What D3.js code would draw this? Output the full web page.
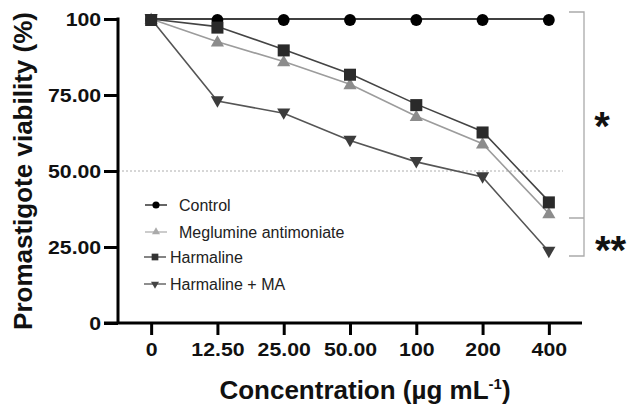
<!DOCTYPE html>
<html>
<head>
<meta charset="utf-8">
<script src="https://cdn.jsdelivr.net/npm/d3@7"></script>
<style>
  body { margin: 0; background: #fff; }
  svg { display: block; font-family: "Liberation Sans", Arial, sans-serif; }
</style>
</head>
<body>
<div id="chart"></div>
<script>
// concentrations (µg/mL) as shown on the axis
const concentrations = ["0", "12.50", "25.00", "50.00", "100", "200", "400"];
const yTicks = [0, 25, 50, 75, 100];
const yTickLabels = ["0", "25.00", "50.00", "75.00", "100"];

// viability values (%)
const control = [100, 100, 100, 100, 100, 100, 100];
const meglumine = [100, 92.5, 86, 78.5, 68, 59, 36];
const harmaline = [100, 97.5, 90, 82, 72, 63, 40];
const harmalineMA = [100, 73, 69, 60, 53, 48, 23.5];

const seriesNames = ["Control", "Meglumine antimoniate", "Harmaline", "Harmaline + MA"];

const width = 629, height = 409;
const svg = d3.select("#chart").append("svg")
    .attr("width", width)
    .attr("height", height);

const x = d3.scalePoint()
    .domain(concentrations)
    .range([118, 582])
    .padding(0.5);

const y = d3.scaleLinear()
    .domain([0, 100])
    .range([323, 19]);

// reference line at 50%
svg.append("line")
    .attr("x1", 118).attr("x2", 563)
    .attr("y1", y(50)).attr("y2", y(50))
    .attr("stroke", "#9a9a9a")
    .attr("stroke-width", 0.8)
    .attr("stroke-dasharray", "2,2");

// series styles (drawn back to front)
const series = [
    { name: seriesNames[1], values: meglumine, line: "#9c9c9c", fill: "#8c8c8c", symbol: d3.symbolTriangle, size: 75, rot: 0 },
    { name: seriesNames[3], values: harmalineMA, line: "#555", fill: "#3c3c3c", symbol: d3.symbolTriangle, size: 75, rot: 180 },
    { name: seriesNames[0], values: control, line: "#000", fill: "#000", symbol: d3.symbolCircle, size: 110, rot: 0 },
    { name: seriesNames[2], values: harmaline, line: "#444", fill: "#2a2a2a", symbol: d3.symbolSquare, size: 145, rot: 0 }
];

const lineGen = d3.line()
    .x((d, i) => x(concentrations[i]))
    .y(d => y(d));

series.forEach(s => {
    svg.append("path")
        .datum(s.values)
        .attr("d", lineGen)
        .attr("fill", "none")
        .attr("stroke", s.line)
        .attr("stroke-width", 1.6);
});

series.forEach(s => {
    svg.append("g").selectAll("path")
        .data(s.values)
        .join("path")
        .attr("d", d3.symbol().type(s.symbol).size(s.size))
        .attr("transform", (d, i) => `translate(${x(concentrations[i])},${y(d) + (s.rot ? -1 : 1)}) rotate(${s.rot})`)
        .attr("fill", s.fill);
});

// axes
const yAxis = svg.append("g")
    .attr("transform", "translate(118,0)")
    .call(d3.axisLeft(y).tickValues(yTicks).tickFormat((d, i) => yTickLabels[i]).tickSize(14).tickPadding(1));

const xAxis = svg.append("g")
    .attr("transform", "translate(0,323)")
    .call(d3.axisBottom(x).tickSize(12).tickPadding(8));

// labels in the picture are a bit wider than Arial, so stretch them sideways
const tickScale = 1.12;
[yAxis, xAxis].forEach(ax => {
    ax.select(".domain").attr("stroke", "#000").attr("stroke-width", 3);
    ax.selectAll(".tick line").attr("stroke", "#000").attr("stroke-width", 3);
    ax.selectAll(".tick text")
        .attr("fill", "#111")
        .attr("transform", `scale(${tickScale},1)`)
        .style("font-size", "19px")
        .style("font-weight", "bold")
        .style("font-family", "'Liberation Sans', Arial, sans-serif");
});
// axis lines without the end caps
yAxis.select(".domain").attr("d", "M0,323V17.5");
xAxis.select(".domain").attr("d", "M104,0H582");

// axis titles
svg.append("text")
    .attr("transform", "translate(32,171) rotate(-90)")
    .attr("text-anchor", "middle")
    .style("font-size", "26px")
    .style("font-weight", "bold")
    .attr("fill", "#111")
    .text("Promastigote viability (%)");

const xTitle = svg.append("text")
    .attr("x", 365).attr("y", 399)
    .attr("text-anchor", "middle")
    .style("font-size", "26px")
    .style("font-weight", "bold")
    .attr("fill", "#111");
xTitle.append("tspan").text("Concentration (µg mL");
xTitle.append("tspan").attr("dy", -10).style("font-size", "15px").text("-1");
xTitle.append("tspan").attr("dy", 10).text(")");

// legend
const legendItems = [
    { name: seriesNames[0], color: "#000", symbol: d3.symbolCircle, size: 40, rot: 0, x1: 145, x2: 167, tx: 179, ty: 205 },
    { name: seriesNames[1], color: "#aaa", symbol: d3.symbolTriangle, size: 28, rot: 0, x1: 145, x2: 167, tx: 179, ty: 232 },
    { name: seriesNames[2], color: "#333", symbol: d3.symbolSquare, size: 45, rot: 0, x1: 144, x2: 166, tx: 170, ty: 257 },
    { name: seriesNames[3], color: "#444", symbol: d3.symbolTriangle, size: 28, rot: 180, x1: 144, x2: 166, tx: 170, ty: 284 }
];

const legend = svg.append("g").classed("legend", true);
legendItems.forEach(item => {
    const cx = (item.x1 + item.x2) / 2;
    legend.append("line")
        .attr("x1", item.x1).attr("x2", item.x2)
        .attr("y1", item.ty).attr("y2", item.ty)
        .attr("stroke", item.color)
        .attr("stroke-width", 1.2);
    legend.append("path")
        .attr("d", d3.symbol().type(item.symbol).size(item.size))
        .attr("transform", `translate(${cx},${item.ty}) rotate(${item.rot})`)
        .attr("fill", item.color);
    legend.append("text")
        .attr("x", item.tx).attr("y", item.ty)
        .attr("dy", "0.35em")
        .style("font-size", "16px")
        .attr("fill", "#222")
        .text(item.name);
});

// significance brackets
svg.append("path")
    .attr("d", "M569,12H584V256H569M569,218H584")
    .attr("fill", "none")
    .attr("stroke", "#aaa")
    .attr("stroke-width", 1.3);

svg.append("text")
    .attr("x", 602).attr("y", 140)
    .attr("text-anchor", "middle")
    .style("font-size", "40px")
    .style("font-weight", "bold")
    .attr("fill", "#111")
    .text("*");

svg.append("text")
    .attr("x", 595).attr("y", 264)
    .style("font-size", "40px")
    .style("font-weight", "bold")
    .attr("fill", "#111")
    .text("**");
</script>
</body>
</html>
